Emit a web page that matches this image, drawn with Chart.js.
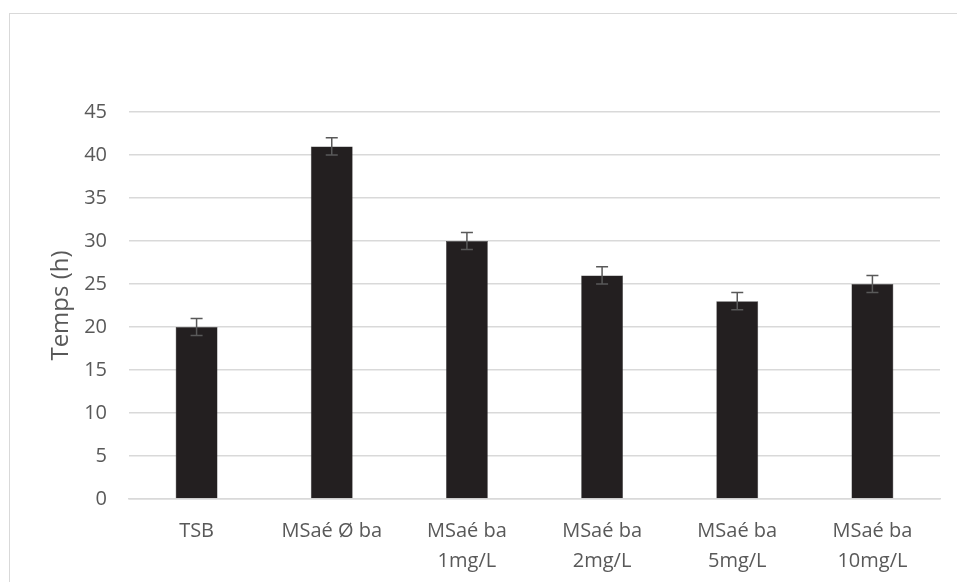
<!DOCTYPE html>
<html>
<head>
<meta charset="utf-8">
<script src="https://cdn.jsdelivr.net/npm/chart.js@4.4.1/dist/chart.umd.min.js"></script>
<style>
    html, body { margin: 0; padding: 0; background: #fff; }
    #wrap { position: relative; width: 957px; height: 582px; overflow: hidden; }
    #frame {
        position: absolute; left: 9px; top: 13px; width: 1000px; height: 700px;
        border-left: 1px solid #d9d9d9; border-top: 1px solid #d9d9d9;
    }
    canvas { position: absolute; left: 0; top: 0; }
</style>
</head>
<body>
<div id="wrap">
    <div id="frame"></div>
    <canvas id="chart" width="957" height="582"></canvas>
</div>
<script>
    // Donnees
    var categories = [
        'TSB',
        'MSaé Ø ba',
        ['MSaé ba', '1mg/L'],
        ['MSaé ba', '2mg/L'],
        ['MSaé ba', '5mg/L'],
        ['MSaé ba', '10mg/L']
    ];
    var temps   = [20, 41, 30, 26, 23, 25];
    var erreurs = [1, 1, 1, 1, 1, 1];
    var yTicks  = [0, 5, 10, 15, 20, 25, 30, 35, 40, 45];

    var fontFamily = '"Open Sans", "Liberation Sans", sans-serif';
    var grey = '#595959';

    // Barres d'erreur dessinees via les echelles du graphique
    var errorBars = {
        id: 'errorBars',
        afterDatasetsDraw: function (chart) {
            var ctx  = chart.ctx;
            var meta = chart.getDatasetMeta(0);
            var y    = chart.scales.y;
            ctx.save();
            ctx.strokeStyle = grey;
            ctx.lineWidth = 1.5;
            meta.data.forEach(function (bar, i) {
                var top = y.getPixelForValue(temps[i] + erreurs[i]);
                var bot = y.getPixelForValue(temps[i] - erreurs[i]);
                var x = bar.x;
                ctx.beginPath();
                ctx.moveTo(x, top); ctx.lineTo(x, bot);
                ctx.moveTo(x - 6, top); ctx.lineTo(x + 6, top);
                ctx.moveTo(x - 6, bot); ctx.lineTo(x + 6, bot);
                ctx.stroke();
            });
            ctx.restore();
        }
    };

    new Chart(document.getElementById('chart').getContext('2d'), {
        type: 'bar',
        data: {
            labels: categories,
            datasets: [{
                data: temps,
                backgroundColor: '#231f20',
                borderColor: '#3a3a3a',
                borderWidth: 0.5,
                barPercentage: 0.62,
                categoryPercentage: 0.5
            }]
        },
        options: {
            responsive: false,
            animation: false,
            layout: { padding: { left: 0, top: 112, right: 17, bottom: 0 } },
            plugins: { legend: { display: false }, tooltip: { enabled: false } },
            scales: {
                x: {
                    grid: { display: false, drawTicks: false },
                    border: { display: true, color: '#d9d9d9', width: 1.5 },
                    ticks: {
                        color: grey, padding: 17, maxRotation: 0, autoSkip: false,
                        font: { family: fontFamily, size: 20, lineHeight: 1.5 }
                    },
                    afterFit: function (s) { s.height = 83; }
                },
                y: {
                    min: 0, max: 45,
                    afterBuildTicks: function (s) {
                        s.ticks = yTicks.map(function (v) { return { value: v }; });
                    },
                    grid: { color: '#d9d9d9', lineWidth: 1.5, drawTicks: false },
                    border: { display: false },
                    ticks: {
                        color: grey, padding: 22,
                        font: { family: fontFamily, size: 20 }
                    },
                    title: {
                        display: true, text: 'Temps (h)', color: grey,
                        font: { family: fontFamily, size: 24 },
                        padding: { top: 47, bottom: 0 }
                    },
                    afterFit: function (s) { s.width = 129; }
                }
            }
        },
        plugins: [errorBars]
    });
</script>
</body>
</html>
